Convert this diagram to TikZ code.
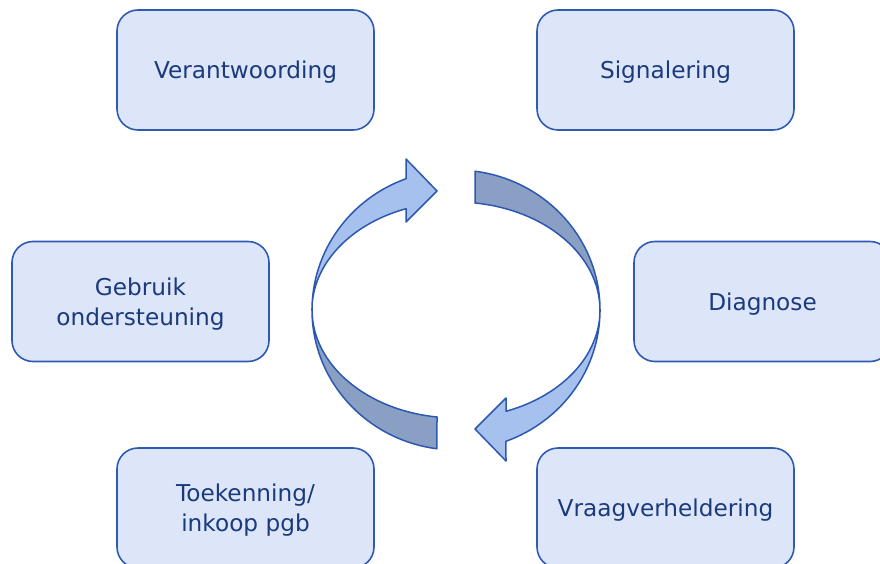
\documentclass[tikz,border=0pt]{standalone}
\usepackage{fontspec}
\setmainfont{DejaVu Sans}

\definecolor{boxfill}{HTML}{DCE6F8}
\definecolor{boxline}{HTML}{2E5AB4}
\definecolor{boxtext}{HTML}{1B3A7C}
\definecolor{lightarr}{HTML}{A6C1EE}
\definecolor{darkarr}{HTML}{8A9FC4}
\definecolor{arrline}{HTML}{2D58B0}

\begin{document}
\begin{tikzpicture}[x=1pt,y=-1pt,
    stage/.style={draw=boxline,line width=1.6pt,fill=boxfill,rounded corners=21pt,
      minimum width=257pt,minimum height=120pt,align=center,text=boxtext,
      text depth=0pt,font=\fontsize{23.2}{30}\selectfont},
    lightpart/.style={fill=lightarr,draw=arrline,line width=1.5pt,line join=round},
    darkpart/.style={fill=darkarr,draw=arrline,line width=1.5pt,line join=round}]
    \useasboundingbox (0,0) rectangle (880,564);
    \clip (0,0) rectangle (880,564);
    \node[stage](ver) at (245.5,70)  {Verantwoording};
    \node[stage](sig) at (665.5,70)  {Signalering};
    \node[stage](geb) at (140.5,301.5)  {Gebruik\\ondersteuning};
    \node[stage](dia) at (762.5,301.5)  {Diagnose};
    \node[stage](toe) at (245.5,508)  {Toekenning/\\inkoop pgb};
    \node[stage](vra) at (665.5,508)  {Vraagverheldering};
    % circular arrows
    \coordinate (mid) at (456,310);
    \foreach \r in {0,180}{
      \begin{scope}[rotate around={\r:(mid)}]
        \draw[darkpart] (312,310) arc[start angle=180,end angle=97.6,x radius=144,y radius=140]
          -- (437,417) arc[start angle=97.6,end angle=180,x radius=144,y radius=108] -- cycle;
        \draw[lightpart] (312,310) arc[start angle=180,end angle=249.7,x radius=144,y radius=140]
          -- (406,159) -- (437,191) -- (406,222) -- (406,208.7)
          arc[start angle=249.7,end angle=180,x radius=144,y radius=108] -- cycle;
      \end{scope}
    }
\end{tikzpicture}
\end{document}
